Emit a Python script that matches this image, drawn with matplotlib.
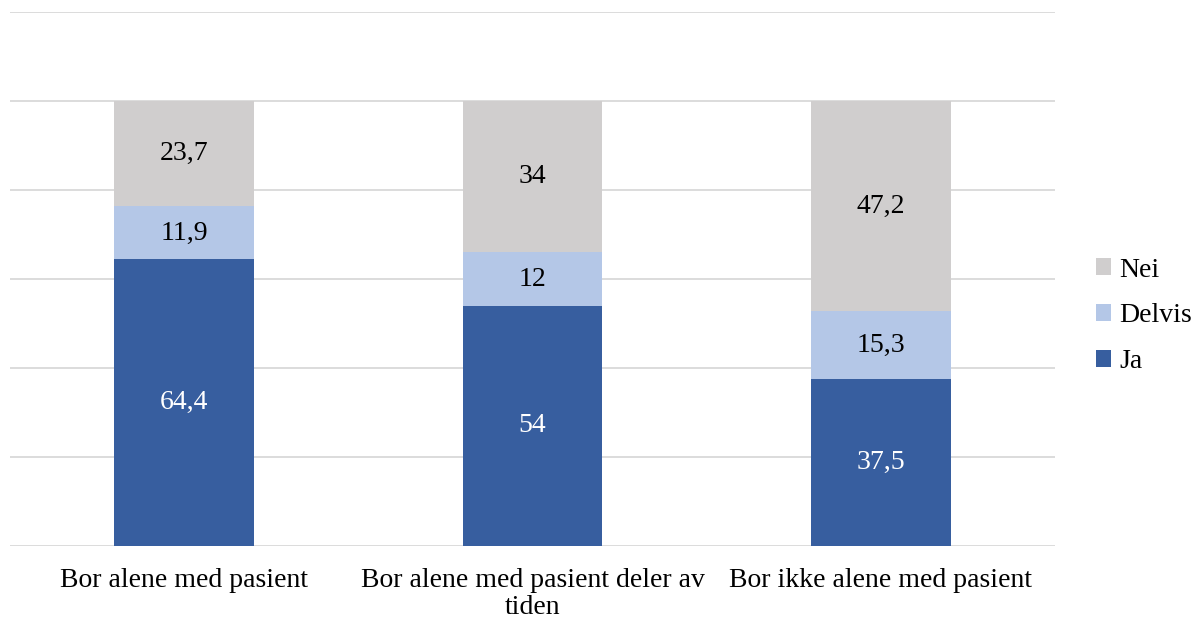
import matplotlib.pyplot as plt
import numpy as np

categories = ["Bor alene med pasient", "Bor alene med pasient deler av\ntiden", "Bor ikke alene med pasient"]
ja = [64.4, 54, 37.5]
delvis = [11.9, 12, 15.3]
nei = [23.7, 34, 47.2]
ja_labels = ["64,4", "54", "37,5"]
delvis_labels = ["11,9", "12", "15,3"]
nei_labels = ["23,7", "34", "47,2"]

plt.rcParams['font.family'] = ['Liberation Serif', 'DejaVu Serif']

fig = plt.figure(figsize=(11.99, 6.22), dpi=100)
ax = fig.add_axes([10/1199, 76/622, 1045/1199, 534/622])

x = np.arange(len(categories))
w = 0.4
c_ja, c_delvis, c_nei = "#375E9F", "#B4C7E7", "#D0CECE"

b1 = ax.bar(x, ja, w, color=c_ja, label="Ja", zorder=2)
b2 = ax.bar(x, delvis, w, bottom=ja, color=c_delvis, label="Delvis", zorder=2)
bot = np.array(ja) + np.array(delvis)
b3 = ax.bar(x, nei, w, bottom=bot, color=c_nei, label="Nei", zorder=2)

fs = 20
ax.bar_label(b1, labels=ja_labels, label_type="center", color="white", fontsize=fs)
ax.bar_label(b2, labels=delvis_labels, label_type="center", color="black", fontsize=fs)
ax.bar_label(b3, labels=nei_labels, label_type="center", color="black", fontsize=fs)

ax.set_xlim(-0.5, 2.5)
ax.set_ylim(0, 120)
ax.set_yticks(np.arange(0, 121, 20))
ax.yaxis.grid(True, color="#D9D9D9", linewidth=1.3, zorder=0)
ax.tick_params(axis="y", left=False, labelleft=False)
ax.tick_params(axis="x", bottom=False, labelsize=fs, pad=12)
ax.set_xticks(x)
ax.set_xticklabels(categories, linespacing=1.15)
for s in ax.spines.values():
    s.set_visible(False)

handles = [b3, b2, b1]
fig.legend(handles, ["Nei", "Delvis", "Ja"], loc="center left", bbox_to_anchor=(1096/1199, 306/622),
           frameon=False, fontsize=fs, handlelength=0.55, handleheight=0.55, handletextpad=0.3,
           labelspacing=0.75, borderpad=0, borderaxespad=0)

fig.savefig("out.png", dpi=100)
